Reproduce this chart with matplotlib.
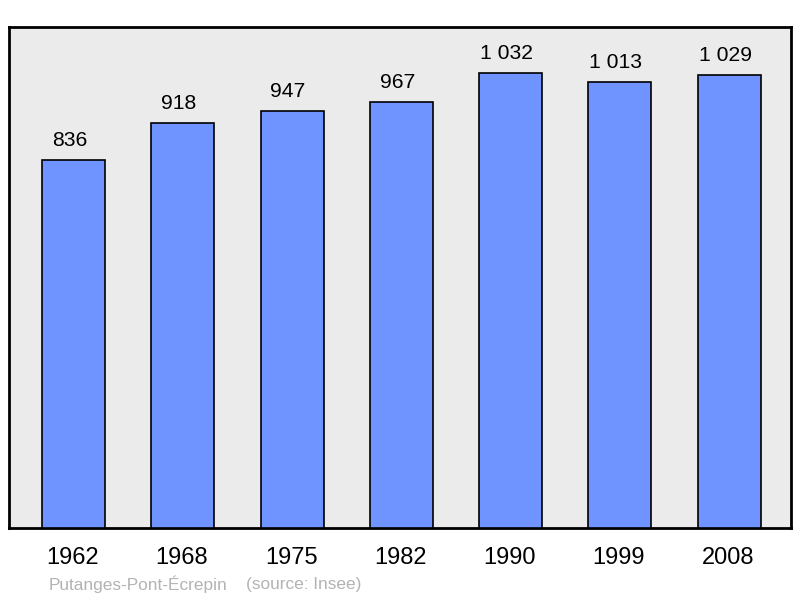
import matplotlib.pyplot as plt

# Population data
years = ["1962", "1968", "1975", "1982", "1990", "1999", "2008"]
population = [836, 918, 947, 967, 1032, 1013, 1029]
town = "Putanges-Pont-Écrepin"
source = "(source: Insee)"

plt.rcParams["font.family"] = ["Liberation Sans", "DejaVu Sans"]

W, H = 800, 598
fig = plt.figure(figsize=(W / 100, H / 100), dpi=100)
fig.patch.set_facecolor("white")

# axes box in pixels: left 9, right 791, top 27, bottom 528
ax = fig.add_axes([9 / W, (H - 528) / H, 782 / W, 501 / H])
ax.set_facecolor("#ebebeb")
for s in ax.spines.values():
    s.set_linewidth(2)
    s.set_color("black")

x = list(range(len(years)))
ax.bar(x, population, width=0.576, color="#7094ff", edgecolor="black",
       linewidth=1.2, zorder=3)
ax.set_xlim(-0.59, 6.565)
ax.set_ylim(0, 1137)
ax.set_xticks([])
ax.set_yticks([])

for xi, v in zip(x, population):
    label = f"{v:,}".replace(",", " ")
    ax.annotate(label, (xi, v), xytext=(-4, 14), textcoords="offset pixels",
                ha="center", va="baseline", fontsize=15.2, color="black")

for xi, yr in zip(x, years):
    ax.annotate(yr, (xi, 0), xytext=(-1, -30), textcoords="offset pixels",
                xycoords=("data", "axes fraction"), ha="center", va="center",
                fontsize=17, color="black")

fig.text(49 / W, 1 - 584 / H, town, ha="left", va="center",
         fontsize=12.4, color="#b3b3b3")
fig.text(246 / W, 1 - 584 / H, source, ha="left", va="center",
         fontsize=12.4, color="#b3b3b3")

fig.savefig("out.png", dpi=100)
